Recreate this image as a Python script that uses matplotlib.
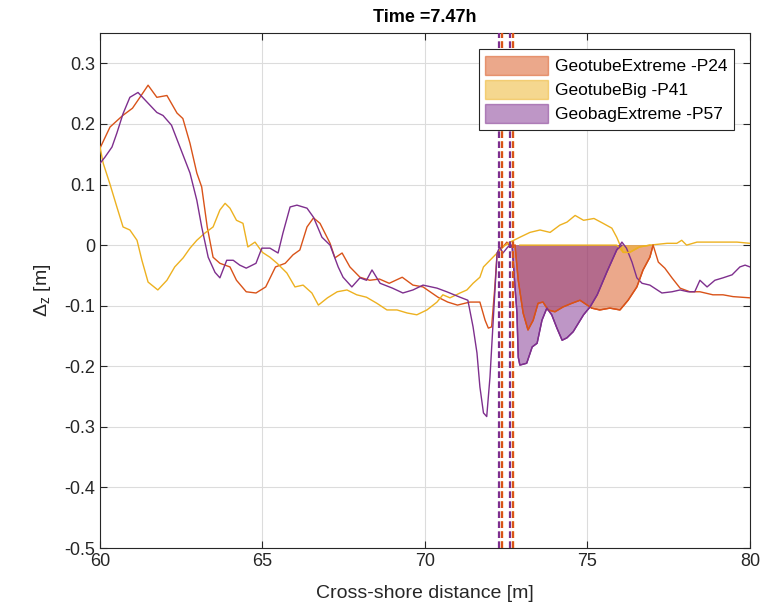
import numpy as np
import matplotlib
matplotlib.use('Agg')
import matplotlib.pyplot as plt

plt.rcParams['font.family'] = ['Liberation Sans', 'DejaVu Sans']
plt.rcParams['mathtext.fontset'] = 'custom'
plt.rcParams['mathtext.rm'] = 'Liberation Sans'
plt.rcParams['mathtext.it'] = 'Liberation Sans'

ext_x = [60.0, 60.31, 60.7, 61.0, 61.23, 61.48, 61.75, 62.06, 62.37, 62.55, 62.77, 62.98, 63.13, 63.3,
         63.48, 63.69, 64.0, 64.2, 64.5, 64.8, 65.1, 65.4, 65.7, 65.94, 66.15, 66.37, 66.57, 66.77, 67.08,
         67.23, 67.45, 67.69, 68.0, 68.3, 68.6, 68.9, 69.3, 69.63, 69.94, 70.4, 70.7, 71.0, 71.38, 71.69,
         71.85, 71.95, 72.05, 72.15, 72.22, 72.4, 72.52, 72.62, 72.77, 72.87, 73.02, 73.17, 73.33, 73.48,
         73.63, 73.79, 74.0, 74.25, 74.52, 74.77, 75.13, 75.38, 75.69, 76.0, 76.25, 76.52, 76.71, 76.92,
         77.02, 77.18, 77.38, 77.6, 77.85, 78.15, 78.46, 78.86, 79.17, 79.48, 80.0]
ext_z = [0.16, 0.195, 0.214, 0.226, 0.244, 0.264, 0.244, 0.247, 0.218, 0.209, 0.168, 0.119, 0.096, 0.03,
         -0.02, -0.03, -0.036, -0.058, -0.077, -0.079, -0.069, -0.036, -0.03, -0.016, -0.008, 0.03, 0.045,
         0.036, 0.003, -0.021, -0.013, -0.036, -0.053, -0.058, -0.056, -0.063, -0.053, -0.066, -0.069,
         -0.086, -0.094, -0.099, -0.094, -0.094, -0.124, -0.137, -0.135, -0.069, -0.013, -0.003, 0.005,
         -0.003, 0.0, -0.058, -0.112, -0.14, -0.124, -0.096, -0.094, -0.107, -0.11, -0.102, -0.096, -0.091,
         -0.104, -0.107, -0.104, -0.107, -0.091, -0.069, -0.041, -0.02, 0.0, -0.028, -0.038, -0.054, -0.071,
         -0.077, -0.077, -0.082, -0.082, -0.085, -0.087]

big_x = [60.0, 60.1, 60.3, 60.52, 60.71, 60.92, 61.14, 61.29, 61.48, 61.78, 62.06, 62.3, 62.56, 62.77,
         62.98, 63.23, 63.48, 63.69, 63.85, 64.0, 64.2, 64.4, 64.55, 64.77, 65.0, 65.23, 65.45, 65.75, 66.0,
         66.25, 66.52, 66.72, 67.0, 67.3, 67.6, 67.9, 68.2, 68.52, 68.83, 69.14, 69.45, 69.75, 70.06, 70.37,
         70.55, 70.77, 71.08, 71.29, 71.48, 71.69, 71.8, 72.0, 72.22, 72.4, 72.62, 72.92, 73.23, 73.54,
         73.85, 74.15, 74.37, 74.62, 74.88, 75.2, 75.48, 75.75, 75.9, 76.1, 76.3, 76.6, 76.92, 77.45, 77.75,
         77.9, 78.05, 78.37, 78.77, 79.17, 79.6, 80.0]
big_z = [0.162, 0.135, 0.102, 0.063, 0.03, 0.025, 0.008, -0.025, -0.061, -0.074, -0.058, -0.036, -0.021,
         -0.005, 0.008, 0.02, 0.03, 0.058, 0.069, 0.061, 0.041, 0.036, -0.003, 0.005, -0.012, -0.02, -0.03,
         -0.046, -0.069, -0.066, -0.079, -0.099, -0.087, -0.077, -0.074, -0.082, -0.086, -0.096, -0.107,
         -0.107, -0.112, -0.115, -0.107, -0.094, -0.082, -0.087, -0.079, -0.074, -0.063, -0.053, -0.036,
         -0.025, -0.013, -0.003, 0.005, 0.013, 0.021, 0.025, 0.021, 0.033, 0.038, 0.049, 0.041, 0.044, 0.036,
         0.028, 0.013, -0.012, -0.012, -0.003, 0.0, 0.003, 0.003, 0.008, 0.0, 0.005, 0.005, 0.005, 0.005,
         0.003]

bag_x = [60.0, 60.15, 60.37, 60.52, 60.71, 60.92, 61.17, 61.45, 61.75, 61.94, 62.2, 62.46, 62.77, 62.98,
         63.13, 63.33, 63.54, 63.69, 63.9, 64.1, 64.3, 64.5, 64.8, 64.98, 65.23, 65.48, 65.63, 65.85, 66.06,
         66.37, 66.57, 66.83, 67.08, 67.33, 67.48, 67.75, 68.0, 68.2, 68.37, 68.62, 69.0, 69.32, 69.63,
         69.94, 70.37, 70.67, 71.08, 71.32, 71.48, 71.6, 71.69, 71.8, 71.9, 72.0, 72.1, 72.22, 72.3, 72.4,
         72.55, 72.68, 72.77, 72.83, 72.87, 72.92, 73.13, 73.3, 73.45, 73.6, 73.75, 73.9, 74.06, 74.22,
         74.37, 74.56, 74.72, 74.88, 75.08, 75.3, 75.6, 75.9, 76.06, 76.2, 76.37, 76.52, 76.68, 76.92, 77.29,
         77.6, 77.85, 78.1, 78.3, 78.46, 78.68, 78.92, 79.17, 79.45, 79.69, 79.85, 80.0]
bag_z = [0.135, 0.145, 0.162, 0.185, 0.217, 0.244, 0.252, 0.236, 0.219, 0.214, 0.198, 0.162, 0.119, 0.074,
         0.03, -0.02, -0.045, -0.054, -0.025, -0.025, -0.033, -0.038, -0.03, -0.005, -0.005, -0.013, 0.02,
         0.063, 0.066, 0.061, 0.046, 0.013, 0.0, -0.036, -0.053, -0.069, -0.054, -0.058, -0.041, -0.063,
         -0.071, -0.079, -0.074, -0.066, -0.071, -0.077, -0.086, -0.091, -0.135, -0.178, -0.234, -0.277,
         -0.283, -0.218, -0.124, -0.013, -0.003, -0.013, -0.003, 0.0, -0.069, -0.112, -0.185, -0.198, -0.195,
         -0.168, -0.162, -0.124, -0.104, -0.115, -0.137, -0.157, -0.153, -0.143, -0.129, -0.115, -0.102,
         -0.082, -0.044, -0.008, 0.005, -0.005, -0.028, -0.054, -0.063, -0.066, -0.079, -0.077, -0.074,
         -0.077, -0.077, -0.058, -0.069, -0.058, -0.054, -0.049, -0.036, -0.033, -0.036]

labels = ['GeotubeExtreme -P24', 'GeotubeBig -P41', 'GeobagExtreme -P57']
colors = ['#D95319', '#EDB120', '#7E2F8E']
# structure toe / crest positions [m]
toe_x = [72.37, 72.37, 72.28]
crest_x = [72.71, 72.71, 72.62]
# erosion zone start / end [m]
fill_start = [72.68, 72.68, 72.68]
fill_end = [77.02, 76.95, 76.1]

profiles = [(ext_x, ext_z), (big_x, big_z), (bag_x, bag_z)]

fig = plt.figure(figsize=(7.75, 6.13), dpi=100)
ax = fig.add_axes([0.129, 0.106, 0.8387, 0.840])

handles = []
for (px, pz), c in zip(profiles, colors):
    ax.plot(px, pz, color=c, lw=1.0, zorder=3)

for (px, pz), c, lab, x0, x1 in zip(profiles, colors, labels, fill_start, fill_end):
    px = np.array(px)
    pz = np.array(pz)
    m = (px >= x0) & (px <= x1)
    fx = np.concatenate([[px[m][0]], px[m], [px[m][-1]]])
    fz = np.concatenate([[0.0], np.minimum(pz[m], 0), [0.0]])
    h = ax.fill(fx, fz, facecolor=c, alpha=0.5, edgecolor='none', zorder=2, label=lab)[0]
    ax.plot(fx, fz, color=c, lw=1.0, zorder=3)
    handles.append(h)

# yellow first so it sits under the orange one
for i in [1, 0, 2]:
    ax.axvline(toe_x[i], color=colors[i], lw=1.6, ls=(0, (3.0, 1.5)), zorder=4)
    ax.axvline(crest_x[i], color=colors[i], lw=1.6, ls=(0, (3.0, 1.5)), zorder=4)

ax.set_xlim(60, 80)
ax.set_ylim(-0.5, 0.35)
ax.set_xticks([60, 65, 70, 75, 80])
ax.set_yticks(np.arange(-0.5, 0.31, 0.1))
ax.set_yticklabels(['-0.5', '-0.4', '-0.3', '-0.2', '-0.1', '0', '0.1', '0.2', '0.3'])
ax.grid(True, color='#DCDCDC', lw=0.8)
ax.set_axisbelow(True)
ax.tick_params(direction='in', top=True, right=True, labelsize=13, colors='#262626', length=5)
for s in ax.spines.values():
    s.set_color('#262626')
    s.set_linewidth(0.8)

ax.set_xlabel('Cross-shore distance [m]', fontsize=14, color='#262626', labelpad=11)
ax.set_ylabel(r'$\Delta_z$ [m]', fontsize=14, color='#262626', labelpad=8)
ax.set_title('Time =7.47h', fontsize=13, fontweight='bold', pad=8)

leg = ax.legend(handles=handles, loc='upper right', fontsize=12.5, frameon=True, fancybox=False,
                edgecolor='#262626', framealpha=1, handlelength=3.6, handleheight=1.3,
                handletextpad=0.4, borderaxespad=0.9, labelspacing=0.3)
leg.get_frame().set_linewidth(0.8)
for h, c in zip(leg.legend_handles, colors):
    h.set_edgecolor(c)
    h.set_linewidth(1.0)

fig.savefig('out.png', dpi=100)
